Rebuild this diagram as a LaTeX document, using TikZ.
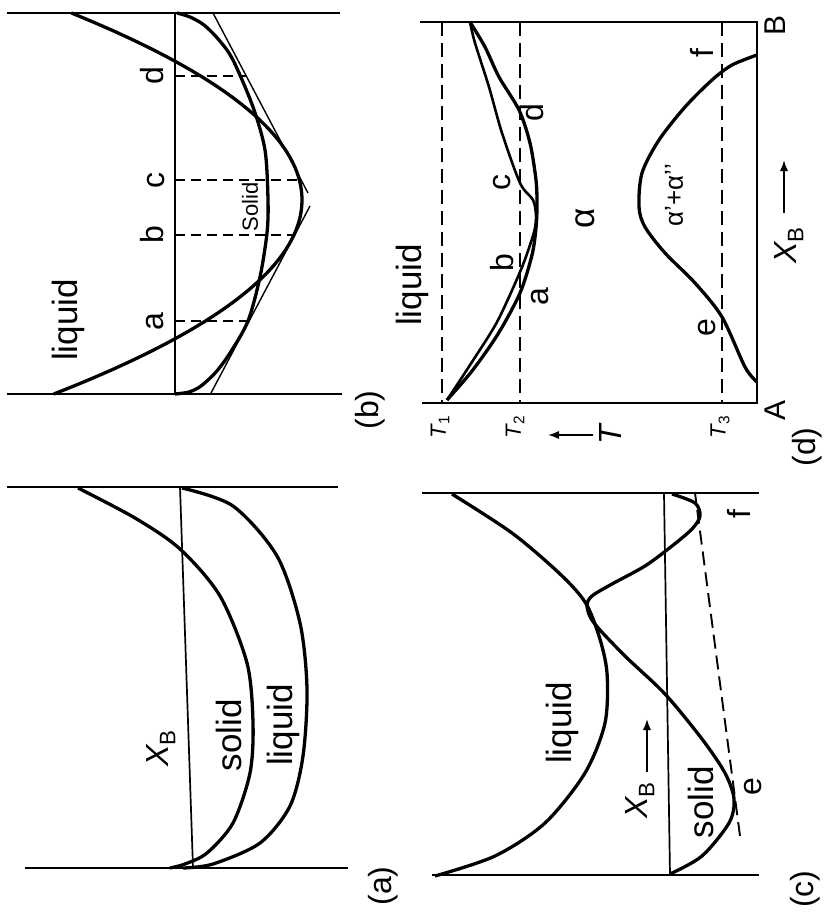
\documentclass[tikz,border=0pt]{standalone}
\usepackage{fontspec}
\setmainfont{Liberation Sans}
\usetikzlibrary{arrows.meta}

\begin{document}
\begin{tikzpicture}[
    x=1pt, y=-1pt,
    >=Latex,
    frame/.style={line width=2.4pt},
    axisline/.style={line width=1.7pt},
    curve/.style={line width=3.3pt, line join=round},
    tangent/.style={line width=1.4pt},
    guide/.style={line width=1.9pt, dash pattern=on 10pt off 6pt},
    isotherm/.style={line width=1.9pt, dash pattern=on 14pt off 7pt},
    lbl/.style={rotate=90, inner sep=0pt, font=\fontsize{35}{40}\selectfont},
    letter/.style={rotate=90, inner sep=0pt, font=\fontsize{32}{38}\selectfont},
    small/.style={rotate=90, inner sep=0pt, font=\fontsize{22}{26}\selectfont},
]
\useasboundingbox (0,0) rectangle (824,912);

% ---------- (b): G curves at T2 ----------
\draw[frame] (7,13) -- (340,13);
\draw[frame] (7,394) -- (342,394);
\draw[axisline] (175,13) -- (175,394);

% liquid: parabola, solid: flat curve
\draw[curve] plot[domain=13:394, samples=80, variable=\t] ({302-(0.0812*(\t-200))^2}, \t);
\draw[curve] plot[smooth] coordinates {(175,394) (189,392) (201,386) (216,372) (230,353) (248,321)
    (260,277) (267,233) (268,200) (265,150) (253,107) (233,60) (219,40) (204,25) (190,17) (177,13)};

% common tangents
\coordinate (ptA) at (248,321);
\coordinate (ptB) at (294,235);
\coordinate (ptC) at (300,180);
\coordinate (ptD) at (246,76);
\draw[tangent] (211,393) -- (310,206);
\draw[tangent] (213,13) -- (308,193);

% tangent points
\draw[guide] (175,321) -- (ptA);
\draw[guide] (175,235) -- (ptB);
\draw[guide] (175,180) -- (ptC);
\draw[guide] (175,76) -- (ptD);

\node[lbl] (liqB) at (68,320) {liquid};
\node[small] (solB) at (250,207) {Solid};
\node[letter] (labA) at (155,322) {a};
\node[letter] (labB) at (152,235) {b};
\node[letter] (labC) at (156,181) {c};
\node[letter] (labD) at (152,76) {d};
\node[letter] (capB) at (370,410) {(b)};

% ---------- (d): phase diagram ----------
\draw[frame] (420,22) -- (757,22) -- (757,403) -- (422,403);
\foreach \Tx in {442,520,722}
    \draw[isotherm] (\Tx,22) -- (\Tx,403);

% liquidus and solidus
\draw[curve, line width=2.6pt] plot[smooth] coordinates {(447,400) (470,365) (497,322) (520,272)
    (530,245) (535,228) (536,215) (533,200) (520,183) (502,133) (489,87) (475,43) (470,22)};
\draw[curve] plot[smooth] coordinates {(447,400) (472,371) (498,334) (520,293) (532,255)
    (536,228) (537,205) (536,180) (530,143) (519,110) (499,77) (485,47) (470,22)};

% miscibility gap
\draw[curve] plot[smooth] coordinates {(757,382) (745,367) (722,317) (695,283) (665,253)
    (645,227) (639,207) (642,173) (659,140) (685,107) (712,80) (732,65) (757,55)};

\node[lbl] (liqD) at (412,285) {liquid};
\node[letter] (labDa) at (540,297) {a};
\node[letter] (labDb) at (502,263) {b};
\node[letter] (labDc) at (502,182) {c};
\node[letter] (labDd) at (532,113) {d};
\node[letter] (labDe) at (707,328) {e};
\node[letter] (labDf) at (702,53) {f};
\node[lbl] (alpha) at (585,218) {α};
\node[small, font=\fontsize{26}{30}\selectfont] (gap) at (674,195) {α{'}+α{'}{'}};

% axis labels
\node[letter, font=\fontsize{30}{36}\selectfont] (endA) at (775,410) {A};
\node[letter, font=\fontsize{30}{36}\selectfont] (endB) at (775,25) {B};
\node[letter] (xbD) at (789,245) {{\itshape X}\textsubscript{B}};
\draw[->, line width=1.8pt] (784,213) -- (784,160);
\node[small] (tOne) at (440,427) {{\itshape T}\textsubscript{1}};
\node[small] (tTwo) at (515,427) {{\itshape T}\textsubscript{2}};
\node[small] (tThree) at (720,427) {{\itshape T}\textsubscript{3}};
\node[letter] (tAxis) at (610,435) {\itshape T};
\draw[->, line width=1.8pt] (593,435) -- (548,435);
\node[letter] (capD) at (807,447) {(d)};

% ---------- (a): solid / liquid, no minimum ----------
\draw[frame] (7,487) -- (338,487);
\draw[frame] (25,868) -- (348,868);
\draw[axisline] (180,487) -- (193,868);

\draw[curve] plot[smooth] coordinates {(78,488) (135,518) (180,549) (220,596) (247,663) (253,723)
    (250,773) (233,823) (207,853) (185,864) (170,868)};
\draw[curve] plot[smooth] coordinates {(182,488) (233,506) (277,556) (300,623) (307,689)
    (303,756) (290,806) (260,843) (213,864) (183,868)};

\node[letter] (xbA) at (161,748) {{\itshape X}\textsubscript{B}};
\node[lbl] (solA) at (229,735) {solid};
\node[lbl] (liqA) at (283,725) {liquid};
\node[letter] (capA) at (383,886) {(a)};

% ---------- (c): solid with two minima at T3 ----------
\draw[frame] (422,493) -- (759,493);
\draw[frame] (432,875) -- (759,875);
\draw[axisline] (664,494) -- (670,875);

\draw[curve] plot[smooth] coordinates {(452,494) (512,533) (559,573) (585,602) (599,636) (607,673)
    (605,723) (585,773) (545,823) (495,856) (435,876)};
\draw[curve] plot[smooth] coordinates {(670,874) (702,856) (729,823) (734,799) (725,773) (702,739)
    (665,694) (625,656) (594,623) (587,606) (592,596) (612,584) (645,566) (672,546) (692,529)
    (700,516) (695,503) (672,494)};

% common tangent e--f
\draw[guide, dash pattern=on 14pt off 7pt] (740,836) -- (695,493);

\node[lbl] (liqC) at (562,723) {liquid};
\node[letter] (xbC) at (640,800) {{\itshape X}\textsubscript{B}};
\draw[->, line width=1.8pt] (647,772) -- (647,719);
\node[lbl] (solC) at (701,802) {solid};
\node[letter] (labCe) at (753,787) {e};
\node[letter] (labCf) at (739,514) {f};
\node[letter] (capC) at (805,889) {(c)};

\end{tikzpicture}
\end{document}
